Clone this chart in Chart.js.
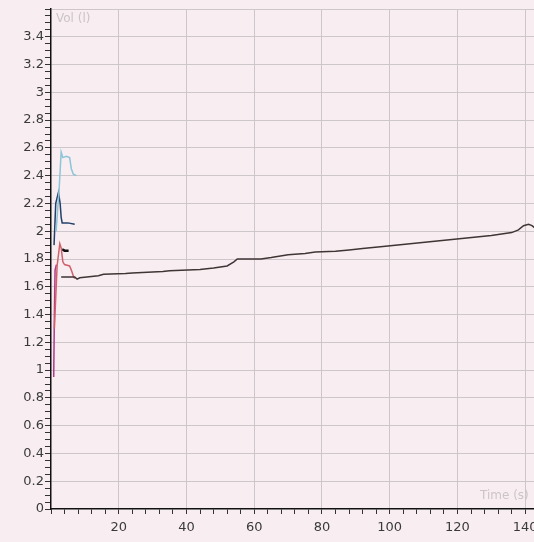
<!DOCTYPE html>
<html>
<head>
<meta charset="utf-8">
<script src="https://cdn.jsdelivr.net/npm/chart.js@4.4.1/dist/chart.umd.min.js"></script>
<style>
  html, body { margin: 0; padding: 0; background: #f8eef2; overflow: hidden; }
  #wrap { width: 560px; height: 542px; }
</style>
</head>
<body>
<div id="wrap"><canvas id="c" width="560" height="542"></canvas></div>
<script>
// ---- data ----
const lightBlueX = [1.5, 2.4, 3.0, 3.5, 4.5, 5.5, 6.0, 6.6, 7.5];
const lightBlueY = [2.00, 2.30, 2.57, 2.53, 2.54, 2.53, 2.45, 2.41, 2.40];

const darkBlueX = [0.9, 1.4, 2.2, 2.7, 3.0, 3.3, 5.0, 7.0];
const darkBlueY = [1.90, 2.20, 2.28, 2.20, 2.10, 2.06, 2.06, 2.05];

const blackX = [3.3, 4.0, 5.2];
const blackY = [1.87, 1.86, 1.86];

const redX = [1.0, 1.8, 2.6, 3.0, 3.5, 4.0, 5.5, 6.0, 6.7, 7.1];
const redY = [1.30, 1.75, 1.91, 1.88, 1.78, 1.76, 1.75, 1.72, 1.67, 1.66];

const magentaX = [0.8, 1.0, 1.2, 1.6];
const magentaY = [0.95, 1.40, 1.72, 1.76];

const mainX = [3.0, 7.0, 7.7, 8.5, 14, 15.5, 22, 24, 33, 35, 44, 48, 52, 54, 55, 62, 65, 70, 75, 78, 84, 88, 92, 98, 106, 114, 122, 130, 136, 138, 139.5, 141, 142, 143];
const mainY = [1.67, 1.67, 1.655, 1.665, 1.68, 1.69, 1.695, 1.70, 1.71, 1.715, 1.725, 1.735, 1.75, 1.78, 1.80, 1.80, 1.81, 1.83, 1.84, 1.85, 1.855, 1.865, 1.875, 1.89, 1.91, 1.93, 1.95, 1.97, 1.99, 2.01, 2.04, 2.05, 2.04, 2.02];

const yAxisTitle = 'Vol (l)';
const xAxisTitle = 'Time (s)';

function pts(xs, ys) { return xs.map((x, i) => ({ x: x, y: ys[i] })); }

const FONT = '"DejaVu Sans", Verdana, sans-serif';

const axisTitles = {
  id: 'axisTitles',
  afterDraw(chart) {
    const ctx = chart.ctx, a = chart.chartArea;
    ctx.save();
    ctx.fillStyle = '#cbc4c8';
    ctx.font = '12px ' + FONT;
    ctx.textBaseline = 'middle';
    ctx.textAlign = 'left';
    ctx.fillText(yAxisTitle, a.left + 5, a.top + 10);
    ctx.fillText(xAxisTitle, a.right - 74, a.bottom - 13);
    ctx.restore();
  }
};

const ds = (label, xs, ys, color, w) => ({
  label: label, data: pts(xs, ys), borderColor: color, backgroundColor: color,
  borderWidth: w, pointRadius: 0, tension: 0, fill: false
});

new Chart(document.getElementById('c'), {
  type: 'line',
  data: {
    datasets: [
      ds('main', mainX, mainY, '#3f3535', 1.5),
      ds('red', redX, redY, '#d0606a', 1.5),
      ds('magenta', magentaX, magentaY, '#b03a88', 1.5),
      ds('lightblue', lightBlueX, lightBlueY, '#8cc4d8', 1.5),
      ds('darkblue', darkBlueX, darkBlueY, '#23406a', 1.5),
      ds('black', blackX, blackY, '#111111', 2.5)
    ]
  },
  options: {
    responsive: false,
    animation: false,
    layout: { padding: { top: 9, right: 4, left: 0, bottom: 0 } },
    plugins: { legend: { display: false }, tooltip: { enabled: false } },
    scales: {
      x: {
        type: 'linear', min: 0, max: 148.5,
        border: { color: '#111', width: 1.5 },
        grid: {
          color: c => (Math.round(c.tick.value) % 20 === 0 && c.tick.value > 0) ? '#cdc6ca' : 'transparent',
          tickColor: '#333', tickLength: 5
        },
        ticks: {
          stepSize: 4, autoSkip: false, maxRotation: 0, padding: 6,
          color: '#3a3a3a', font: { family: FONT, size: 13 },
          callback: v => (Math.round(v) % 20 === 0 && v > 0) ? String(Math.round(v)) : ''
        },
        afterFit: s => { s.height = 33; }
      },
      y: {
        type: 'linear', min: 0, max: 3.6,
        border: { color: '#111', width: 1.5 },
        grid: {
          color: c => (Math.round(c.tick.value * 20) % 4 === 0 && c.tick.value > 0) ? '#cdc6ca' : 'transparent',
          tickColor: '#333', tickLength: 6
        },
        ticks: {
          stepSize: 0.05, autoSkip: false, padding: 1,
          color: '#3a3a3a', font: { family: FONT, size: 13 },
          callback: v => {
            const n = Math.round(v * 20);
            if (n % 4 !== 0 || v > 3.45) return '';
            return String(Math.round(v * 10) / 10);
          }
        },
        afterFit: s => { s.width = 51; }
      }
    }
  },
  plugins: [axisTitles]
});
</script>
</body>
</html>
